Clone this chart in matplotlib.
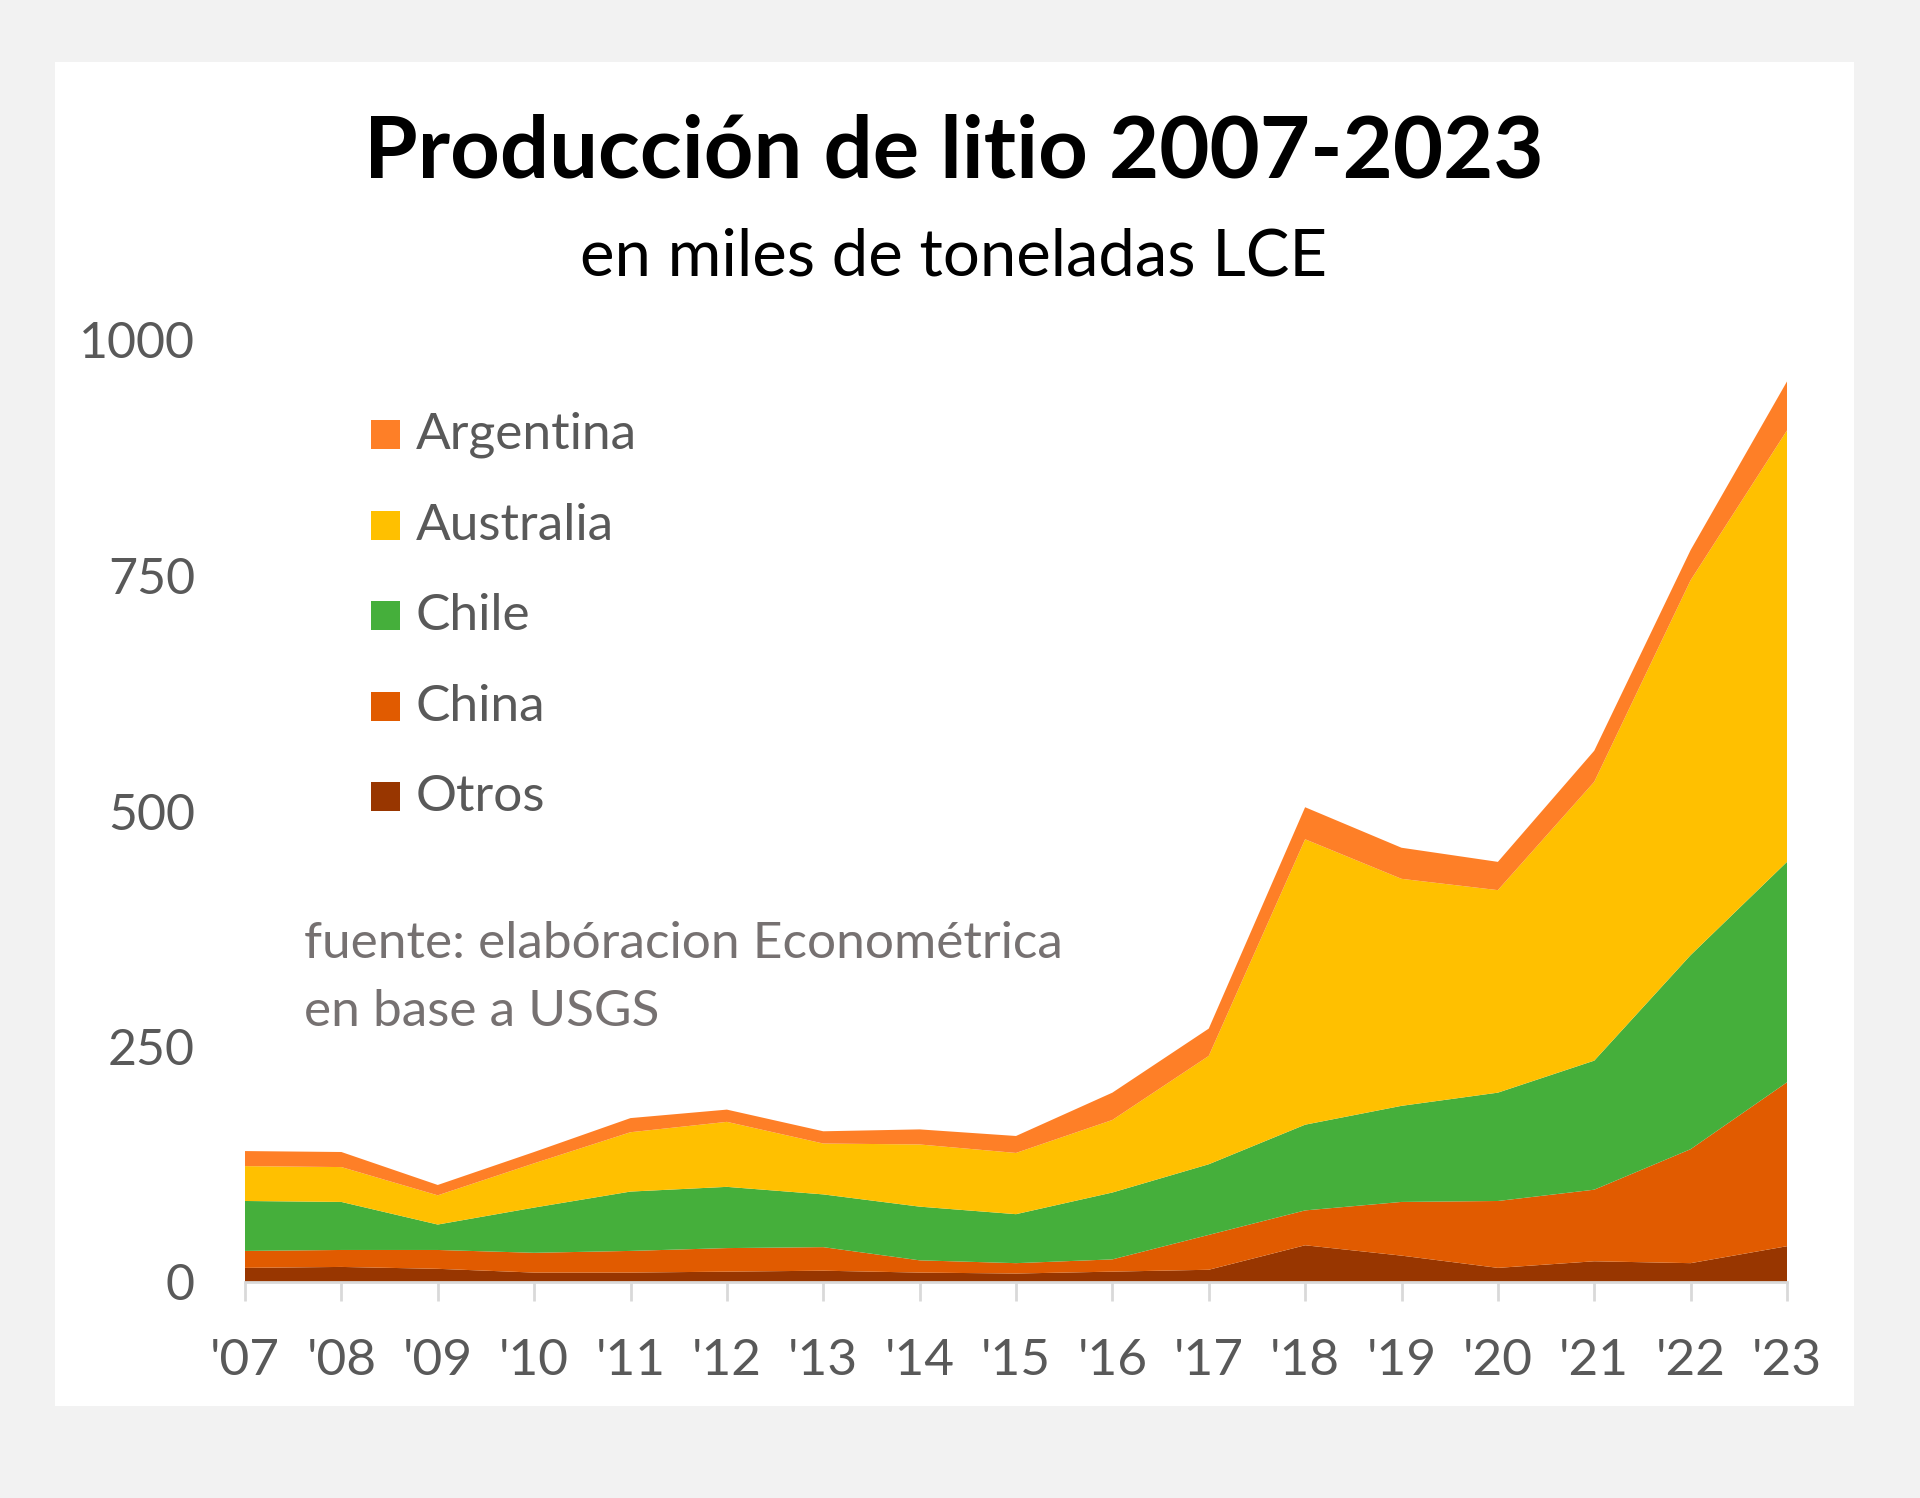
import numpy as np
import matplotlib
matplotlib.use("Agg")
import matplotlib.pyplot as plt
from matplotlib.patches import Rectangle

plt.rcParams['font.family'] = ['Lato', 'DejaVu Sans']

years = list(range(2007, 2024))
year_labels = ["'%02d" % (y % 100) for y in years]

# miles de toneladas LCE
otros     = [15, 16, 14, 10, 10, 11, 12, 10, 9, 11, 13, 39, 28, 15, 22, 20, 38]
china     = [18, 18, 20, 21, 23, 25, 25, 13, 11, 13, 37, 37, 57, 71, 76, 121, 174]
chile     = [53, 51, 27, 48, 63, 65, 56, 57, 52, 71, 75, 91, 102, 115, 137, 206, 234]
australia = [37, 37, 31, 47, 63, 69, 54, 66, 65, 77, 115, 303, 241, 215, 296, 398, 458]
argentina = [16, 16, 11, 12, 15, 13, 13, 16, 18, 29, 29, 34, 33, 30, 33, 32, 52]

series = ["Otros", "China", "Chile", "Australia", "Argentina"]
colors = {"Otros": "#983600", "China": "#E15B00", "Chile": "#45AF3B",
          "Australia": "#FFC000", "Argentina": "#FE7F27"}

W, H = 1920, 1498
fig = plt.figure(figsize=(W/100, H/100), dpi=100, facecolor="#f2f2f2")
fig.patches.append(Rectangle((55/W, 1-1406/H), (1854-55)/W, (1406-62)/H,
                             transform=fig.transFigure, facecolor="white",
                             edgecolor="none", zorder=-10))

ax = fig.add_axes([245/W, 1-1282/H, (1787-245)/W, (1282-340)/H], zorder=1)
ax.set_facecolor("none")
vals = [otros, china, chile, australia, argentina]
ax.stackplot(years, *vals, colors=[colors[s] for s in series], linewidth=0)

ax.set_xlim(2007, 2023)
ax.set_ylim(0, 1000)
ax.set_yticks([0, 250, 500, 750, 1000])
ax.set_xticks(years)
ax.set_xticklabels(year_labels)
for s in ["top", "right", "left"]:
    ax.spines[s].set_visible(False)
ax.spines["bottom"].set_color("#d9d9d9")
ax.spines["bottom"].set_linewidth(2)
ax.tick_params(axis="x", colors="#d9d9d9", length=14, width=2, pad=26,
               labelcolor="#595959", labelsize=37)
ax.tick_params(axis="y", length=0, pad=36, labelcolor="#595959", labelsize=36)

# title
fig.text(954/W, 1-153/H, "Producción de litio 2007-2023", ha="center", va="center",
         fontsize=62.5, fontweight="bold", color="black")
fig.text(954/W, 1-257/H, "en miles de toneladas LCE", ha="center", va="center",
         fontsize=47, color="black")

# legend, top to bottom
leg_y = [435, 526, 616, 707, 797]
for name, y in zip(series[::-1], leg_y):
    fig.patches.append(Rectangle((371/W, 1-(y+14)/H), 29/W, 29/H, transform=fig.transFigure,
                                 facecolor=colors[name], edgecolor="none", zorder=3))
    fig.text(416/W, 1-y/H, name, ha="left", va="center", fontsize=37, color="#595959")

fig.text(304/W, 1-944/H, "fuente: elabóracion Econométrica", ha="left", va="center",
         fontsize=37, color="#767171")
fig.text(304/W, 1-1012/H, "en base a USGS", ha="left", va="center",
         fontsize=37, color="#767171")

fig.savefig("out.png", dpi=100, facecolor=fig.get_facecolor())
